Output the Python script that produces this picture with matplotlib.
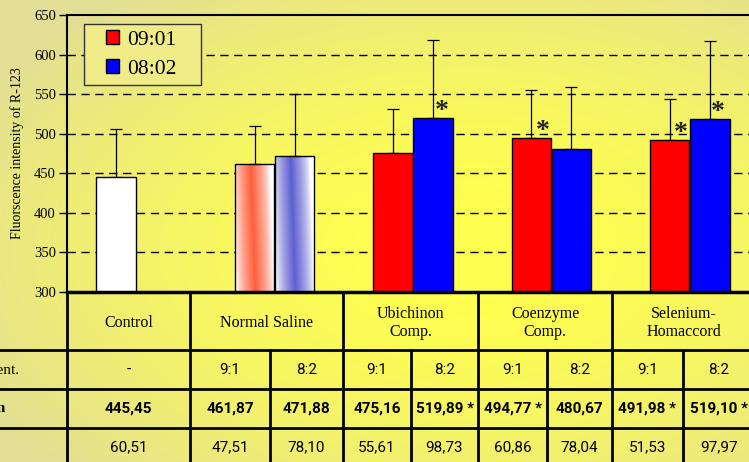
# -*- coding: utf-8 -*-
# Fluorescence intensity of R-123 : bar chart with table below
import numpy as np
import matplotlib
matplotlib.use("Agg")
from matplotlib import pyplot as plt
from matplotlib.patches import Patch

# --------------------------------------------------------------------- #
# Data
groups = ["Control", "Normal Saline", "Ubichinon\nComp.",
          "Coenzyme\nComp.", "Selenium-\nHomaccord"]
mean_91 = [445.45, 461.87, 475.16, 494.77, 491.98]
mean_82 = [None, 471.88, 519.89, 480.67, 519.10]
sd_91 = [60.51, 47.51, 55.61, 60.86, 51.53]
sd_82 = [None, 78.10, 98.73, 78.04, 97.97]
sig_91 = [False, False, False, True, True]
sig_82 = [False, False, True, False, True]
ratio_labels = ["9:1", "8:2"]
legend_labels = ["09:01", "08:02"]
row_labels = ["Treatment.", "Mean", "SD"]
yticks = [300, 350, 400, 450, 500, 550, 600, 650]

# --------------------------------------------------------------------- #
W, H = 749, 462
SERIF = ["Liberation Serif", "DejaVu Serif"]
NARROW = ["Roboto", "DejaVu Sans"]


def fmt(v, star):
    s = f"{v:.2f}".replace(".", ",")
    return s + " *" if star else s


def gradient_bar(ax, x0, w, y0, h, color):
    """Bar filled with a diagonal white-colour-white gradient."""
    nx, ny = 60, 60
    u = np.linspace(0, 1, nx)[None, :] + 0.12 * (np.linspace(1, 0, ny)[:, None] - 0.5)
    v = np.clip(1 - np.abs(u - 0.45) * 2.1, 0, 1) ** 0.7
    col = np.array(color) / 255.0
    img = (1 - v[..., None]) * 1.0 + v[..., None] * col
    im = ax.imshow(img, extent=(x0, x0 + w, y0, y0 + h), origin="upper",
                   aspect="auto", zorder=2)
    r = plt.Rectangle((x0, y0), w, h, facecolor="none", edgecolor="black",
                      lw=1.0, zorder=3)
    ax.add_patch(r)
    im.set_clip_path(r)


fig = plt.figure(figsize=(W / 100, H / 100), dpi=100)

# yellow background
bg = fig.add_axes([0, 0, 1, 1], zorder=0)
yy, xx = np.mgrid[0:H, 0:W]
d = np.sqrt(((xx - 470) / 560.0) ** 2 + ((yy - 250) / 330.0) ** 2)
d = np.clip(d, 0, 1) ** 1.8
c_in = np.array([255, 255, 78]) / 255.0
c_out = np.array([226, 222, 150]) / 255.0
bg.imshow((1 - d[..., None]) * c_in + d[..., None] * c_out,
          extent=(0, W, H, 0), aspect="auto")
bg.set_xlim(0, W)
bg.set_ylim(H, 0)
bg.axis("off")

# main axes (extends past the right edge like the original)
ax = fig.add_axes([67 / W, 170 / H, 692 / W, 277 / H], zorder=1)
ax.patch.set_alpha(0)
x = np.arange(len(groups))
bw = 0.285
off = 0.145

for i in range(len(groups)):
    if i == 0:
        ax.bar(x[i] - off, mean_91[i], bw, bottom=0, color="white",
               edgecolor="black", lw=1.0, zorder=3)
    elif i == 1:
        gradient_bar(ax, x[i] - off - bw / 2, bw, 300, mean_91[i] - 300,
                     (255, 95, 60))
        gradient_bar(ax, x[i] + off - bw / 2, bw, 300, mean_82[i] - 300,
                     (95, 95, 210))
    else:
        ax.bar(x[i] - off, mean_91[i], bw, color="#FF0000",
               edgecolor="black", lw=1.0, zorder=3)
        ax.bar(x[i] + off, mean_82[i], bw, color="#0000FF",
               edgecolor="black", lw=1.0, zorder=3)

# error bars (upper only)
for i in range(len(groups)):
    ax.errorbar(x[i] - off, mean_91[i], yerr=[[0], [sd_91[i]]], fmt="none",
                ecolor="black", elinewidth=0.9, capsize=4.3, capthick=0.9,
                zorder=2.5)
    if mean_82[i] is not None:
        ax.errorbar(x[i] + off, mean_82[i], yerr=[[0], [sd_82[i]]],
                    fmt="none", ecolor="black", elinewidth=0.9, capsize=4.3,
                    capthick=0.9, zorder=2.5)

# significance stars
for i in range(len(groups)):
    if sig_91[i]:
        ax.annotate("*", (x[i] - off, mean_91[i]), xytext=(8, 0),
                    textcoords="offset points", ha="center", va="baseline",
                    fontsize=20, family=SERIF, fontweight="bold",
                    color="#222222", zorder=4)
    if sig_82[i]:
        ax.annotate("*", (x[i] + off, mean_82[i]), xytext=(6, 0),
                    textcoords="offset points", ha="center", va="baseline",
                    fontsize=20, family=SERIF, fontweight="bold",
                    color="#222222", zorder=4)

ax.set_xlim(-0.5, len(groups) - 0.5)
ax.set_ylim(300, 650)
ax.set_yticks(yticks)
ax.set_yticklabels([str(t) for t in yticks], family=SERIF, fontsize=10.5)
ax.set_xticks([])
for t in yticks[1:-1]:
    ax.axhline(t, color="black", lw=1.0, ls=(0, (6, 4)), zorder=1)
ax.tick_params(axis="y", length=6, width=1, direction="out", pad=2)
ax.spines["left"].set_linewidth(1.5)
ax.spines["top"].set_linewidth(1.5)
ax.spines["bottom"].set_visible(False)
ax.spines["right"].set_visible(False)
ax.set_ylabel("Fluorscence intensity of R-123", family=SERIF, fontsize=10,
              labelpad=7)

# --------------------------------------------------------------------- #
# overlay in pixel coordinates: legend box and table below the chart
tb = fig.add_axes([0, 0, 1, 1], zorder=2)
tb.patch.set_alpha(0)
tb.set_xlim(0, W)
tb.set_ylim(H, 0)
tb.axis("off")

tb.add_patch(plt.Rectangle((84, 24), 117, 61, facecolor="#EFEC88",
                           edgecolor="#333333", lw=1.0, zorder=4))
leg = tb.legend(handles=[Patch(facecolor="#FF0000", edgecolor="black"),
                         Patch(facecolor="#0000FF", edgecolor="black")],
                labels=legend_labels, loc="upper left",
                bbox_to_anchor=(106 / W, 1 - 30 / H), frameon=False,
                prop={"family": SERIF, "size": 15.5}, handlelength=0.62,
                handleheight=0.62, handletextpad=0.35, borderpad=0,
                labelspacing=0.45, borderaxespad=0)
leg.set_zorder(5)

grp_edges = [67, 190, 343, 478, 612, 760]
sub_mid = [None, 270, 411, 547, 683]
row_edges = [292, 350, 389, 428, 475]

lw = 2.0
tb.plot([67, W], [row_edges[0]] * 2, color="black", lw=2.5)
for r in row_edges[1:-1]:
    tb.plot([0, W], [r, r], color="black", lw=lw)
for e in grp_edges:
    tb.plot([e, e], [row_edges[0], H], color="black", lw=lw)
for m in sub_mid:
    if m is not None:
        tb.plot([m, m], [row_edges[1], H], color="black", lw=lw)

row_y = [370, 409, 447]
for k, lab in enumerate(row_labels):
    tb.text(-13, row_y[k], lab, ha="center", va="center", family=SERIF,
            fontsize=11, fontweight="bold" if k == 1 else "normal")

for i, g in enumerate(groups):
    a, b = grp_edges[i], grp_edges[i + 1]
    if i == len(groups) - 1:
        b = 755
    tb.text((a + b) / 2, (row_edges[0] + row_edges[1]) / 2 + 2, g,
            ha="center", va="center", family=SERIF, fontsize=11.5,
            linespacing=1.25)
    if sub_mid[i] is None:
        cells = [("-", fmt(mean_91[i], sig_91[i]), fmt(sd_91[i], False), a, b)]
    else:
        m = sub_mid[i]
        cells = [(ratio_labels[0], fmt(mean_91[i], sig_91[i]),
                  fmt(sd_91[i], False), a, m),
                 (ratio_labels[1], fmt(mean_82[i], sig_82[i]),
                  fmt(sd_82[i], False), m, b)]
    for rat, mn, sd, c0, c1 in cells:
        cx = (c0 + c1) / 2
        tb.text(cx, row_y[0], rat, ha="center", va="center",
                family=NARROW, fontsize=11)
        tb.text(cx, row_y[1], mn, ha="center", va="center",
                family=NARROW, fontsize=11, fontweight="bold")
        tb.text(cx, row_y[2], sd, ha="center", va="center",
                family=NARROW, fontsize=11)

fig.savefig("out.png", dpi=100)
